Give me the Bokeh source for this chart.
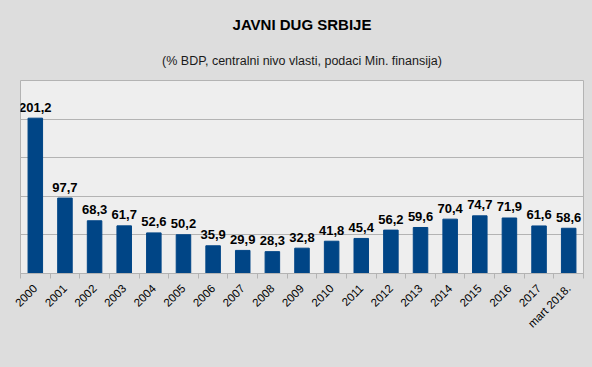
import math
from bokeh.plotting import figure
from bokeh.models import Range1d, FixedTicker, Title, ColumnDataSource
from bokeh.core.properties import value
from bokeh.embed import file_html
from bokeh.resources import INLINE

# ---- data ----
categories = ["2000", "2001", "2002", "2003", "2004", "2005", "2006", "2007", "2008",
              "2009", "2010", "2011", "2012", "2013", "2014", "2015", "2016", "2017",
              "mart 2018."]
debt = [201.2, 97.7, 68.3, 61.7, 52.6, 50.2, 35.9, 29.9, 28.3, 32.8, 41.8, 45.4,
        56.2, 59.6, 70.4, 74.7, 71.9, 61.6, 58.6]
y_ticks = [0, 50, 100, 150, 200, 250]
title_text = "JAVNI DUG SRBIJE"
subtitle_text = "(% BDP, centralni nivo vlasti, podaci Min. finansija)"

n = len(categories)
xs = list(range(n))
labels = [f"{v:.1f}".replace(".", ",") for v in debt]
src = ColumnDataSource(dict(x=xs, top=debt, lab=labels))

FONT = "Liberation Sans"
BG = "#dddddd"
GRID = "#b3b3b3"

p = figure(width=592, height=367, output_backend="svg", toolbar_location=None,
           x_range=Range1d(-0.5, n - 0.5), y_range=Range1d(y_ticks[0], y_ticks[-1]),
           min_border_left=20, min_border_right=9, min_border_top=80, min_border_bottom=94)
p.background_fill_color = "#eeeeee"
p.border_fill_color = BG
p.outline_line_color = GRID
p.outline_line_width = 1

p.vbar(x="x", top="top", width=0.49, source=src, fill_color="#004586", line_color="#004586")

p.text(x="x", y="top", text="lab", source=src, text_align="center",
       text_baseline="alphabetic", y_offset=-11,
       text_font=value(FONT), text_font_size="13px", text_font_style="bold",
       text_color="#000000")

# axes
p.yaxis.visible = False
p.ygrid.ticker = FixedTicker(ticks=y_ticks)
p.ygrid.grid_line_color = GRID
p.xgrid.visible = False

ax = p.xaxis[0]
ax.ticker = FixedTicker(ticks=xs, minor_ticks=[i - 0.5 for i in range(n + 1)])
ax.major_label_overrides = {i: c for i, c in zip(xs, categories)}
ax.major_tick_out = 0
ax.major_tick_in = 0
ax.minor_tick_out = 5
ax.minor_tick_in = 0
ax.minor_tick_line_color = GRID
ax.axis_line_color = GRID
ax.major_label_orientation = math.pi / 4
ax.major_label_standoff = 8
ax.major_label_text_font = FONT
ax.major_label_text_font_size = "11.5px"
ax.major_label_text_color = "#000000"

# titles (subtitle closest to the frame, main title above it)
p.add_layout(Title(text=subtitle_text, align="center", offset=3.5, standoff=25,
                   text_font=FONT, text_font_size="12.5px", text_font_style="normal",
                   text_color="#1a1a1a"), "above")
p.add_layout(Title(text=title_text, align="center", offset=-3.5, standoff=13,
                   text_font=FONT, text_font_size="15px", text_font_style="bold",
                   text_color="#000000"), "above")

html = file_html(p, INLINE).replace("</head>", "<style>body{background:#dddddd;}</style></head>")
open("out.html", "w").write(html)
